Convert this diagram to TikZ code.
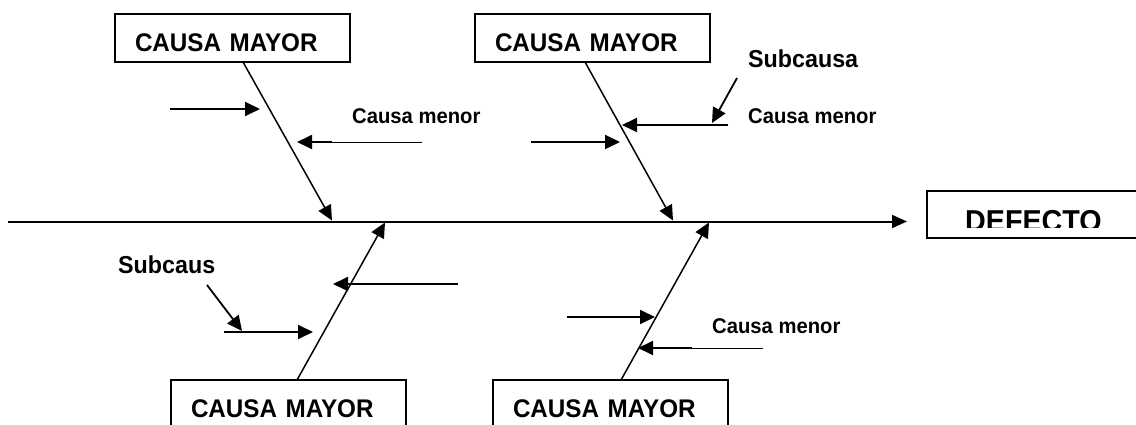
\documentclass[tikz,border=0pt]{standalone}
\usepackage{fontspec}
\setmainfont{Liberation Sans}[FakeStretch=0.95]
\usetikzlibrary{arrows.meta}
\tikzset{
 box/.style={draw, line width=1.6pt, minimum width=235pt, minimum height=48pt,
   inner xsep=20pt, inner ysep=2pt, text width=195pt, align=left,
   text height=26.3pt, text depth=0pt, font=\fontsize{25.5}{30}\selectfont\bfseries},
 bone/.style={line width=1.5pt, -{Triangle[length=15pt,width=14pt]}},
 twig/.style={line width=1.8pt, -{Triangle[length=15pt,width=14pt]}},
 thinline/.style={line width=0.9pt},
 smalltext/.style={font=\fontsize{21.3}{25}\selectfont\bfseries, inner sep=0pt, anchor=base west},
 subtext/.style={font=\fontsize{24.5}{29}\selectfont\bfseries, inner sep=0pt, anchor=base west},
}
\begin{document}
\begin{tikzpicture}[x=1pt, y=-1pt]
\clip (0,0) rectangle (1136,425);
\fill[white] (0,0) rectangle (1136,425);

% boxes
\node[box] (boxTL) at (232.5,38) {CAUSA MAYOR};
\node[box] (boxTR) at (592.5,38) {CAUSA MAYOR};
\node[box] (boxBL) at (288.5,404) {CAUSA MAYOR};
\node[box] (boxBR) at (610.5,404) {CAUSA MAYOR};

% effect box
\node[draw, line width=1.6pt, minimum width=214pt, minimum height=47pt,
      anchor=north west, inner sep=0pt] (defbox) at (926,190) {};
\begin{scope}
\clip (926,190) rectangle (1140,227);
\node[anchor=base west, inner sep=0pt, font=\fontsize{30.2}{36}\selectfont\bfseries]
  (deftext) at (965,231.5) {DEFECTO};
\end{scope}

% spine
\coordinate (sL) at (8,221.5);
\coordinate (sR) at (907,221.5);
\draw[line width=2pt, -{Triangle[length=15pt,width=13pt]}] (sL) -- (sR);

% bone end points
\coordinate (tlA) at (243,62);   \coordinate (tlB) at (332,220.5);
\coordinate (trA) at (585,62);   \coordinate (trB) at (673,220.5);
\coordinate (blA) at (297,380);  \coordinate (blB) at (385,222.5);
\coordinate (brA) at (621,380);  \coordinate (brB) at (709,222.5);
\draw[bone] (tlA) -- (tlB);
\draw[bone] (trA) -- (trB);
\draw[bone] (blA) -- (blB);
\draw[bone] (brA) -- (brB);

% top-left twigs
\coordinate (a1) at (170,109); \coordinate (a2) at (260,109);
\draw[twig] (a1) -- (a2);
\coordinate (b1) at (422,142); \coordinate (b2) at (332,142); \coordinate (b3) at (297,142);
\draw[thinline] (b1) -- (b2);
\draw[twig] (b2) -- (b3);
\node[smalltext] (cmTL) at (352,123.5) {Causa menor};

% top-right twigs
\coordinate (c1) at (728,125); \coordinate (c2) at (622,125);
\draw[twig] (c1) -- (c2);
\coordinate (d1) at (531,142); \coordinate (d2) at (620,142);
\draw[twig] (d1) -- (d2);
\coordinate (e1) at (737,78); \coordinate (e2) at (712,123);
\draw[twig] (e1) -- (e2);
\node[smalltext] (cmTR) at (748,124) {Causa menor};
\node[subtext] (subTR) at (748,68) {Subcausa};

% bottom-left twigs
\coordinate (f1) at (458,284); \coordinate (f2) at (333,284);
\draw[twig] (f1) -- (f2);
\coordinate (g1) at (224,332); \coordinate (g2) at (313,332);
\draw[twig] (g1) -- (g2);
\coordinate (h1) at (207,285); \coordinate (h2) at (242,331);
\draw[twig] (h1) -- (h2);
\node[subtext] (subBL) at (118,273) {Subcaus};

% bottom-right twigs
\coordinate (i1) at (567,317); \coordinate (i2) at (655,317);
\draw[twig] (i1) -- (i2);
\coordinate (j1) at (763,348); \coordinate (j2) at (692,348); \coordinate (j3) at (638,348);
\draw[thinline] (j1) -- (j2);
\draw[twig] (j2) -- (j3);
\node[smalltext] (cmBR) at (712,333) {Causa menor};
\end{tikzpicture}
\end{document}
